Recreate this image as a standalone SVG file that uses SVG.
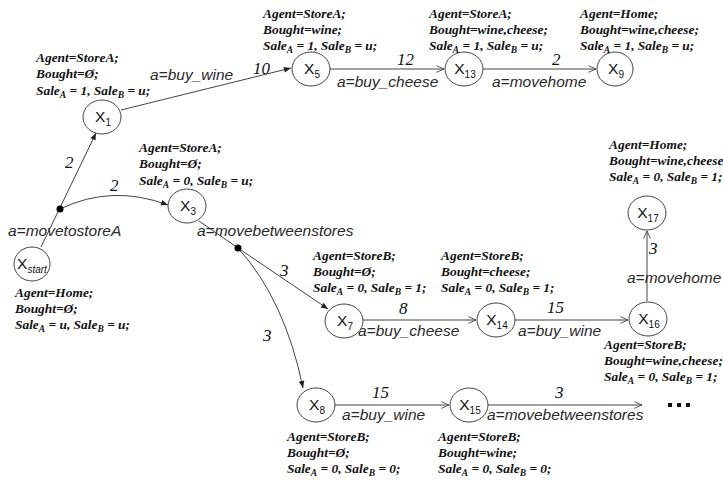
<svg xmlns="http://www.w3.org/2000/svg" width="723" height="482" viewBox="0 0 723 482">
<style>
.blk { font-family: "Liberation Serif", "Times New Roman", serif; font-weight: bold; font-style: italic; font-size: 13.4px; fill: #111; }
.sb { font-size: 9.5px; }
.lbl { font-family: "Liberation Sans", Arial, sans-serif; font-style: italic; font-size: 15.5px; fill: #2a2a2a; }
.num { font-family: "Liberation Serif", "Times New Roman", serif; font-style: italic; font-size: 17px; fill: #111; }
.nd ellipse { fill: #fff; stroke: #444; stroke-width: 1; }
.nt { font-family: "Liberation Sans", Arial, sans-serif; font-size: 15.5px; fill: #111; text-anchor: middle; }
.ns { font-size: 10px; }
.e { fill: none; stroke: #444; stroke-width: 1; }
.ef { marker-end: url(#af); }
.eo { marker-end: url(#ao); }
</style>
<defs>
<marker id="af" viewBox="0 0 10 10" refX="10" refY="5" markerWidth="9" markerHeight="7" orient="auto" markerUnits="userSpaceOnUse">
<path d="M0,1 L10,5 L0,9 z" fill="#222"/>
</marker>
<marker id="ao" viewBox="0 0 10 10" refX="9.5" refY="5" markerWidth="10" markerHeight="8" orient="auto" markerUnits="userSpaceOnUse">
<path d="M0,0.8 L9.5,5 L0,9.2" fill="none" stroke="#444" stroke-width="1.1"/>
</marker>
</defs>

<g id="connectors">
<path class="e ef" d="M41,247 L96,133"/>
<path class="e ef" d="M60,209 Q112,184 168,205"/>
<path class="e ef" d="M121,110 L291,68"/>
<path class="e eo" d="M330,69 L444,69"/>
<path class="e eo" d="M483,69 L596,69"/>
<path class="e" d="M199,221 L238,248"/>
<path class="e ef" d="M238,248 L328,309"/>
<path class="e ef" d="M238,248 Q285,300 303,388"/>
<path class="e eo" d="M363,320 L476,320"/>
<path class="e eo" d="M515,320 L628,320"/>
<path class="e eo" d="M647,301 L647,231"/>
<path class="e eo" d="M335,405 L449,405"/>
<path class="e eo" d="M488,405 L642,405"/>
<circle cx="60" cy="209" r="3.5" fill="#000"/>
<circle cx="238" cy="248" r="3.5" fill="#000"/>
<text class="num" x="65" y="168">2</text>
<text class="lbl" x="8" y="236">a=movetostoreA</text>
<text class="num" x="110" y="191">2</text>
<text class="lbl" x="150" y="80">a=buy_wine</text>
<text class="num" x="253" y="74">10</text>
<text class="num" x="397" y="65">12</text>
<text class="lbl" x="337" y="87">a=buy_cheese</text>
<text class="num" x="552" y="65">2</text>
<text class="lbl" x="492" y="87">a=movehome</text>
<text class="lbl" x="197" y="236">a=movebetweenstores</text>
<text class="num" x="280" y="276">3</text>
<text class="num" x="263" y="341">3</text>
<text class="num" x="399" y="314">8</text>
<text class="lbl" x="358" y="336">a=buy_cheese</text>
<text class="num" x="547" y="313">15</text>
<text class="lbl" x="518" y="336">a=buy_wine</text>
<text class="num" x="649" y="254">3</text>
<text class="lbl" x="627" y="283">a=movehome</text>
<text class="num" x="372" y="398">15</text>
<text class="lbl" x="342" y="420">a=buy_wine</text>
<text class="num" x="555" y="398">3</text>
<text class="lbl" x="487" y="420">a=movebetweenstores</text>
</g>

<g id="Xstart" class="nd">
<ellipse cx="32" cy="264" rx="18" ry="17"/>
<text class="nt" x="32" y="269">X<tspan class="ns" font-style="italic" dy="4">start</tspan></text>
<text class="blk" x="15" y="297">Agent=Home;</text>
<text class="blk" x="15" y="313">Bought=Ø;</text>
<text class="blk" x="15" y="329">Sale<tspan class="sb" dy="3">A</tspan><tspan dy="-3"> = u, Sale</tspan><tspan class="sb" dy="3">B</tspan><tspan dy="-3"> = u;</tspan></text>
</g>

<g id="X1" class="nd">
<ellipse cx="102" cy="117" rx="19" ry="17"/>
<text class="nt" x="103" y="122">X<tspan class="ns" dy="4">1</tspan></text>
<text class="blk" x="36" y="62">Agent=StoreA;</text>
<text class="blk" x="36" y="78">Bought=Ø;</text>
<text class="blk" x="36" y="95">Sale<tspan class="sb" dy="3">A</tspan><tspan dy="-3"> = 1, Sale</tspan><tspan class="sb" dy="3">B</tspan><tspan dy="-3"> = u;</tspan></text>
</g>

<g id="X3" class="nd">
<ellipse cx="187" cy="206" rx="19" ry="17"/>
<text class="nt" x="188" y="211">X<tspan class="ns" dy="4">3</tspan></text>
<text class="blk" x="139" y="152">Agent=StoreA;</text>
<text class="blk" x="139" y="168">Bought=Ø;</text>
<text class="blk" x="139" y="185">Sale<tspan class="sb" dy="3">A</tspan><tspan dy="-3"> = 0, Sale</tspan><tspan class="sb" dy="3">B</tspan><tspan dy="-3"> = u;</tspan></text>
</g>

<g id="X5" class="nd">
<ellipse cx="311" cy="69" rx="19" ry="17"/>
<text class="nt" x="312" y="74">X<tspan class="ns" dy="4">5</tspan></text>
<text class="blk" x="263" y="18">Agent=StoreA;</text>
<text class="blk" x="263" y="34">Bought=wine;</text>
<text class="blk" x="263" y="50">Sale<tspan class="sb" dy="3">A</tspan><tspan dy="-3"> = 1, Sale</tspan><tspan class="sb" dy="3">B</tspan><tspan dy="-3"> = u;</tspan></text>
</g>

<g id="X13" class="nd">
<ellipse cx="464" cy="69" rx="19" ry="17"/>
<text class="nt" x="465" y="74">X<tspan class="ns" dy="4">13</tspan></text>
<text class="blk" x="429" y="18">Agent=StoreA;</text>
<text class="blk" x="429" y="34">Bought=wine,cheese;</text>
<text class="blk" x="429" y="50">Sale<tspan class="sb" dy="3">A</tspan><tspan dy="-3"> = 1, Sale</tspan><tspan class="sb" dy="3">B</tspan><tspan dy="-3"> = u;</tspan></text>
</g>

<g id="X9" class="nd">
<ellipse cx="615" cy="69" rx="18" ry="17"/>
<text class="nt" x="616" y="74">X<tspan class="ns" dy="4">9</tspan></text>
<text class="blk" x="580" y="18">Agent=Home;</text>
<text class="blk" x="580" y="34">Bought=wine,cheese;</text>
<text class="blk" x="580" y="50">Sale<tspan class="sb" dy="3">A</tspan><tspan dy="-3"> = 1, Sale</tspan><tspan class="sb" dy="3">B</tspan><tspan dy="-3"> = u;</tspan></text>
</g>

<g id="X7" class="nd">
<ellipse cx="344" cy="321" rx="19" ry="17"/>
<text class="nt" x="345" y="326">X<tspan class="ns" dy="4">7</tspan></text>
<text class="blk" x="313" y="260">Agent=StoreB;</text>
<text class="blk" x="313" y="276">Bought=Ø;</text>
<text class="blk" x="313" y="292">Sale<tspan class="sb" dy="3">A</tspan><tspan dy="-3"> = 0, Sale</tspan><tspan class="sb" dy="3">B</tspan><tspan dy="-3"> = 1;</tspan></text>
</g>

<g id="X14" class="nd">
<ellipse cx="496" cy="320" rx="19" ry="17"/>
<text class="nt" x="497" y="325">X<tspan class="ns" dy="4">14</tspan></text>
<text class="blk" x="441" y="260">Agent=StoreB;</text>
<text class="blk" x="441" y="276">Bought=cheese;</text>
<text class="blk" x="441" y="292">Sale<tspan class="sb" dy="3">A</tspan><tspan dy="-3"> = 0, Sale</tspan><tspan class="sb" dy="3">B</tspan><tspan dy="-3"> = 1;</tspan></text>
</g>

<g id="X16" class="nd">
<ellipse cx="648" cy="319" rx="19" ry="17"/>
<text class="nt" x="649" y="324">X<tspan class="ns" dy="4">16</tspan></text>
<text class="blk" x="604" y="349">Agent=StoreB;</text>
<text class="blk" x="604" y="365">Bought=wine,cheese;</text>
<text class="blk" x="604" y="381">Sale<tspan class="sb" dy="3">A</tspan><tspan dy="-3"> = 0, Sale</tspan><tspan class="sb" dy="3">B</tspan><tspan dy="-3"> = 1;</tspan></text>
</g>

<g id="X17" class="nd">
<ellipse cx="647" cy="213" rx="19" ry="17"/>
<text class="nt" x="648" y="218">X<tspan class="ns" dy="4">17</tspan></text>
<text class="blk" x="609" y="149">Agent=Home;</text>
<text class="blk" x="609" y="165">Bought=wine,cheese</text>
<text class="blk" x="609" y="181">Sale<tspan class="sb" dy="3">A</tspan><tspan dy="-3"> = 0, Sale</tspan><tspan class="sb" dy="3">B</tspan><tspan dy="-3"> = 1;</tspan></text>
</g>

<g id="X8" class="nd">
<ellipse cx="316" cy="405" rx="19" ry="17"/>
<text class="nt" x="317" y="410">X<tspan class="ns" dy="4">8</tspan></text>
<text class="blk" x="287" y="441">Agent=StoreB;</text>
<text class="blk" x="287" y="457">Bought=Ø;</text>
<text class="blk" x="287" y="473">Sale<tspan class="sb" dy="3">A</tspan><tspan dy="-3"> = 0, Sale</tspan><tspan class="sb" dy="3">B</tspan><tspan dy="-3"> = 0;</tspan></text>
</g>

<g id="X15" class="nd">
<ellipse cx="469" cy="405" rx="19" ry="17"/>
<text class="nt" x="470" y="410">X<tspan class="ns" dy="4">15</tspan></text>
<text class="blk" x="438" y="441">Agent=StoreB;</text>
<text class="blk" x="438" y="457">Bought=wine;</text>
<text class="blk" x="438" y="473">Sale<tspan class="sb" dy="3">A</tspan><tspan dy="-3"> = 0, Sale</tspan><tspan class="sb" dy="3">B</tspan><tspan dy="-3"> = 0;</tspan></text>
</g>

<g id="ellipsis">
<rect x="668" y="403" width="4" height="4" fill="#111"/>
<rect x="677" y="403" width="4" height="4" fill="#111"/>
<rect x="686" y="403" width="4" height="4" fill="#111"/>
</g>
</svg>
